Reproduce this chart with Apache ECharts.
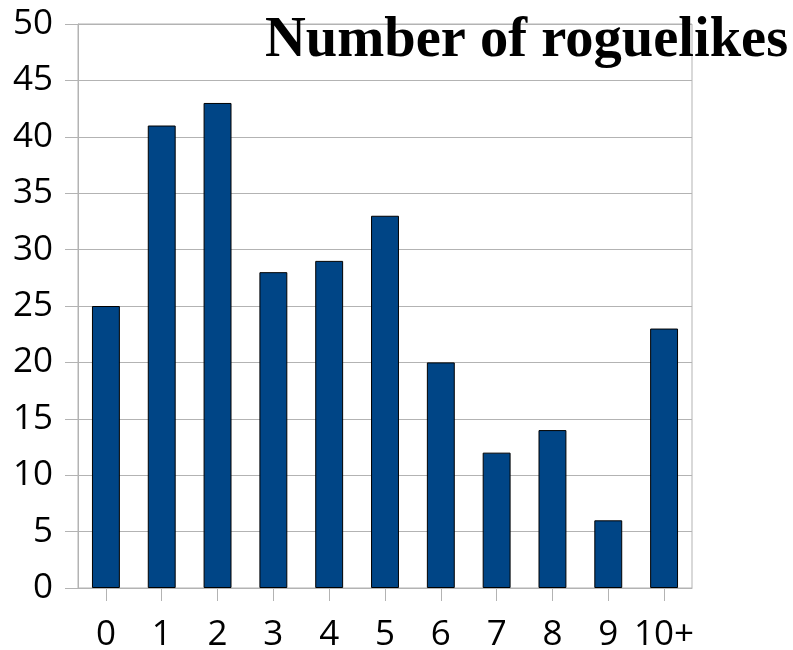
<!DOCTYPE html>
<html><head><meta charset="utf-8">
<script src="https://cdn.jsdelivr.net/npm/echarts@6/dist/echarts.min.js"></script>
<style>html,body{margin:0;padding:0;background:#fff}#c{width:793px;height:650px}</style>
</head><body><div id="c"></div>
<script>
const categories = ['0','1','2','3','4','5','6','7','8','9','10+'];
const counts = [25,41,43,28,29,33,20,12,14,6,23];
const titleText = 'Number of roguelikes';
const yMin = 0, yMax = 50, yStep = 5;

const chart = echarts.init(document.getElementById('c'), null, {renderer:'canvas'});
const grey = '#b3b3b3';
const labelFont = {fontFamily:'Open Sans', fontSize:35, color:'#000'};
chart.setOption({
  animation:false,
  backgroundColor:'#fff',
  title:{
    text:titleText, left:265, top:13, padding:0,
    textStyle:{fontFamily:'Liberation Serif', fontWeight:'bold', fontSize:56.5, color:'#000'}
  },
  grid:{left:78, right:101, top:24, bottom:62, containLabel:false, outerBoundsMode:'none',
        show:true, borderColor:grey, borderWidth:1, backgroundColor:'transparent'},
  xAxis:{
    type:'category', data:categories, boundaryGap:true,
    axisLine:{show:true, lineStyle:{color:grey, width:1}},
    axisTick:{show:true, alignWithLabel:true, length:13, lineStyle:{color:grey}},
    axisLabel:Object.assign({margin:30, interval:0}, labelFont),
    splitLine:{show:false}
  },
  yAxis:{
    type:'value', min:yMin, max:yMax, interval:yStep,
    axisLine:{show:true, lineStyle:{color:grey, width:1}},
    axisTick:{show:true, length:13, lineStyle:{color:grey}},
    axisLabel:Object.assign({margin:25}, labelFont),
    splitLine:{show:true, lineStyle:{color:grey, width:1}}
  },
  series:[{
    type:'bar', data:counts, barWidth:'50%',
    itemStyle:{color:'#004586', borderColor:'#000', borderWidth:1}
  }]
});
</script></body></html>
